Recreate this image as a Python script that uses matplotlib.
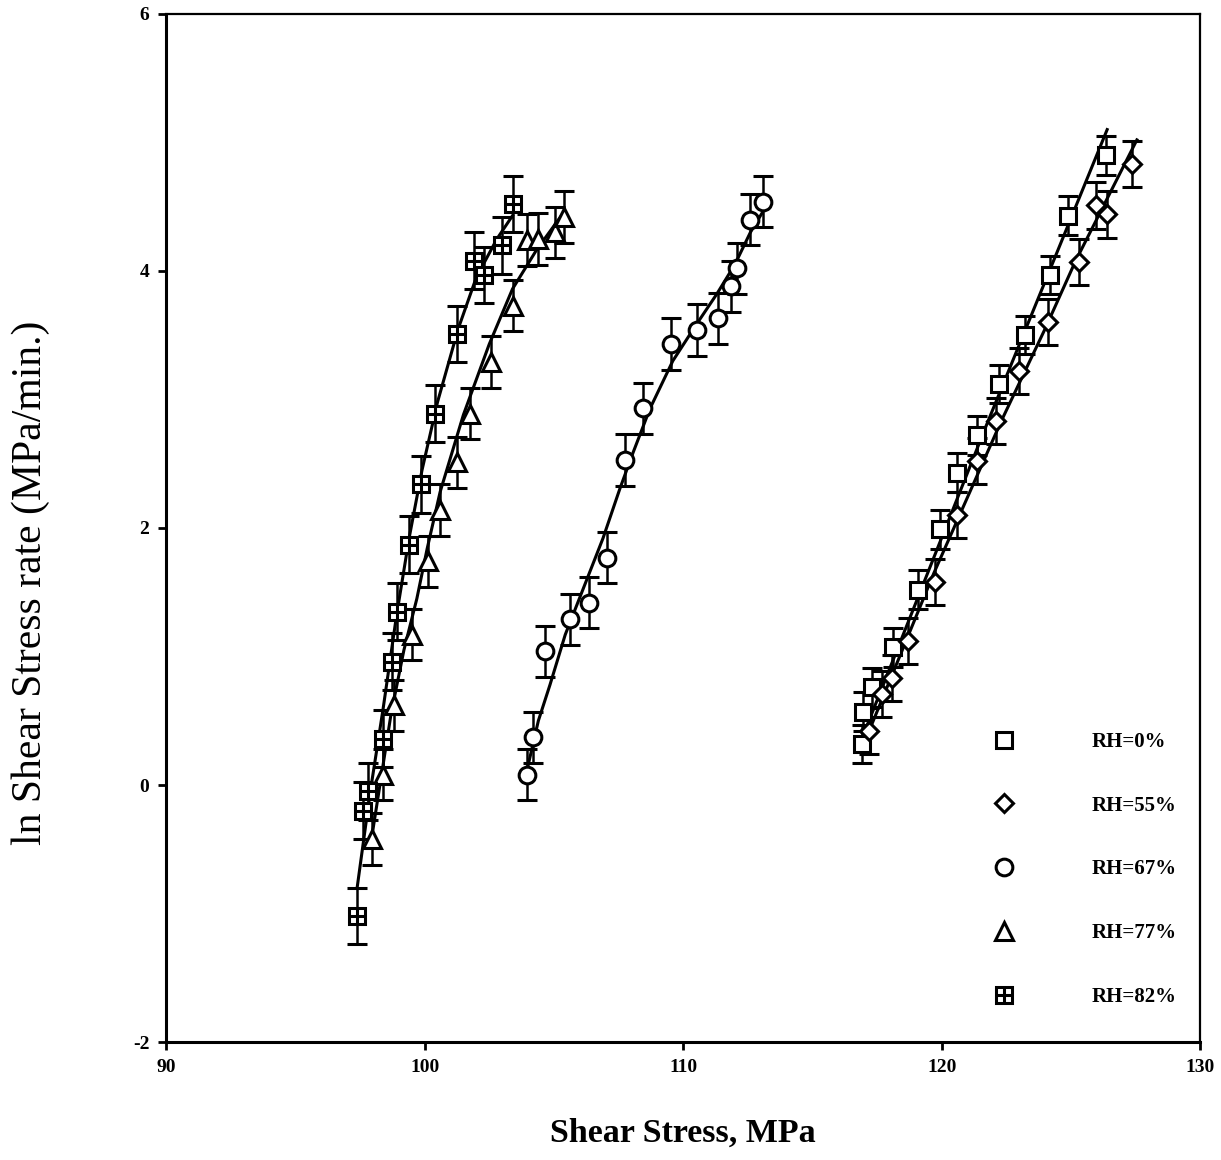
import matplotlib.pyplot as plt

plt.rcParams['font.family'] = 'Liberation Serif'
plt.rcParams['axes.unicode_minus'] = False

# measured points (shear stress MPa, ln shear stress rate)
x_rh0 = [116.9, 116.97, 117.3, 118.1, 119.1, 119.94, 120.58, 121.36, 122.2, 123.23, 124.2, 124.9, 126.36]
y_rh0 = [0.32, 0.57, 0.76, 1.07, 1.52, 1.99, 2.43, 2.72, 3.12, 3.50, 3.97, 4.43, 4.90]

x_rh55 = [117.2, 117.7, 118.07, 118.7, 119.75, 120.58, 121.36, 122.1, 123.0, 124.1, 125.3, 125.98, 126.4, 127.36]
y_rh55 = [0.42, 0.71, 0.83, 1.12, 1.58, 2.10, 2.52, 2.83, 3.22, 3.60, 4.07, 4.51, 4.44, 4.83]

x_rh67 = [103.95, 104.2, 104.66, 105.63, 106.34, 107.05, 107.76, 108.45, 109.54, 110.54, 111.35, 111.86, 112.09, 112.6, 113.1]
y_rh67 = [0.08, 0.37, 1.04, 1.29, 1.42, 1.77, 2.53, 2.93, 3.43, 3.54, 3.63, 3.88, 4.02, 4.40, 4.54]

x_rh77 = [97.97, 98.4, 98.8, 99.5, 100.15, 100.6, 101.25, 101.75, 102.55, 103.4, 103.95, 104.4, 105.05, 105.4]
y_rh77 = [-0.42, 0.08, 0.62, 1.17, 1.74, 2.14, 2.51, 2.89, 3.29, 3.73, 4.24, 4.25, 4.30, 4.42]

x_rh82 = [97.4, 97.6, 97.8, 98.4, 98.75, 98.95, 99.4, 99.85, 100.4, 101.25, 101.9, 102.3, 103.0, 103.4]
y_rh82 = [-1.02, -0.2, -0.05, 0.36, 0.96, 1.35, 1.87, 2.34, 2.89, 3.51, 4.08, 3.97, 4.2, 4.52]

# error bar half-heights
err_rh0 = 0.15
err_rh55 = 0.18
err_rh67 = 0.2
err_rh77 = 0.2
err_rh82 = 0.22

# fitted curves
fit0_x = [116.95, 121.75, 126.4]
fit0_y = [0.38, 2.81, 5.10]
fit55_x = [117.15, 119.7, 122.3, 124.0, 125.16, 127.55]
fit55_y = [0.40, 1.65, 2.83, 3.55, 4.07, 5.02]
fit67_x = [104.0, 104.4, 104.85, 105.44, 106.14, 106.9, 107.56, 108.07, 108.72, 109.6, 110.5, 111.3, 112.0, 112.6, 113.05]
fit67_y = [0.15, 0.5, 0.78, 1.17, 1.53, 1.92, 2.31, 2.59, 2.93, 3.3, 3.58, 3.82, 4.05, 4.3, 4.45]
fit77_x = [98.0, 98.7, 99.2, 99.7, 100.1, 100.6, 101.5, 102.5, 103.4, 104.35, 105.4]
fit77_y = [-0.35, 0.55, 1.05, 1.45, 1.84, 2.28, 2.88, 3.43, 3.86, 4.17, 4.46]
fit82_x = [97.39, 97.9, 98.4, 98.9, 99.4, 99.9, 100.5, 101.3, 102.0, 102.8, 103.4]
fit82_y = [-0.8, -0.05, 0.6, 1.3, 1.92, 2.45, 2.98, 3.55, 3.95, 4.25, 4.43]

labels = ['RH=0%', 'RH=55%', 'RH=67%', 'RH=77%', 'RH=82%']

fig = plt.figure(figsize=(12.21, 11.6), dpi=100)
ax = fig.add_axes([0.136, 0.1017, 0.847, 0.8863])

# fit lines
for fx, fy in [(fit0_x, fit0_y), (fit55_x, fit55_y), (fit67_x, fit67_y),
               (fit77_x, fit77_y), (fit82_x, fit82_y)]:
    ax.plot(fx, fy, color='black', lw=2.2, zorder=2)

series = [
    (x_rh0, y_rh0, err_rh0, 's', 12),
    (x_rh55, y_rh55, err_rh55, 'D', 9),
    (x_rh67, y_rh67, err_rh67, 'o', 12),
    (x_rh77, y_rh77, err_rh77, '^', 13),
    (x_rh82, y_rh82, err_rh82, 's', 12),
]

handles = []
for i, (xs, ys, err, mk, ms) in enumerate(series):
    ax.errorbar(xs, ys, yerr=err, fmt='none', ecolor='black', elinewidth=1.8,
                capsize=7, capthick=2.2, zorder=3)
    h = ax.plot(xs, ys, ls='none', marker=mk, ms=ms, mfc='white', mec='black',
                mew=2.2, zorder=4)[0]
    if i == 4:
        p = ax.plot(xs, ys, ls='none', marker='+', ms=ms - 1, mec='black',
                    mew=2.2, zorder=5)[0]
        handles.append((h, p))
    else:
        handles.append(h)

leg = ax.legend(handles, labels, loc='lower left', bbox_to_anchor=(0.79, 0.024),
                frameon=False, numpoints=1, handlelength=1.0, handletextpad=3.7,
                labelspacing=2.1, borderpad=0.0,
                prop={'size': 15, 'weight': 'bold'})

ax.set_xlim(90, 130)
ax.set_ylim(-2, 6)
ax.set_xticks([90, 100, 110, 120, 130])
ax.set_yticks([-2, 0, 2, 4, 6])
ax.tick_params(direction='out', length=6, width=2, labelsize=14, pad=6)
for lab in ax.get_xticklabels() + ax.get_yticklabels():
    lab.set_fontweight('bold')
for s in ['left', 'bottom']:
    ax.spines[s].set_linewidth(2.2)
for s in ['top', 'right']:
    ax.spines[s].set_linewidth(1.6)

ax.set_xlabel('Shear Stress, MPa', fontsize=24.5, fontweight='bold', labelpad=30)
ax.set_ylabel('ln Shear Stress rate (MPa/min.)', fontsize=30)
ax.yaxis.set_label_coords(-0.112, 0.447)

fig.savefig('out.png', dpi=100)
